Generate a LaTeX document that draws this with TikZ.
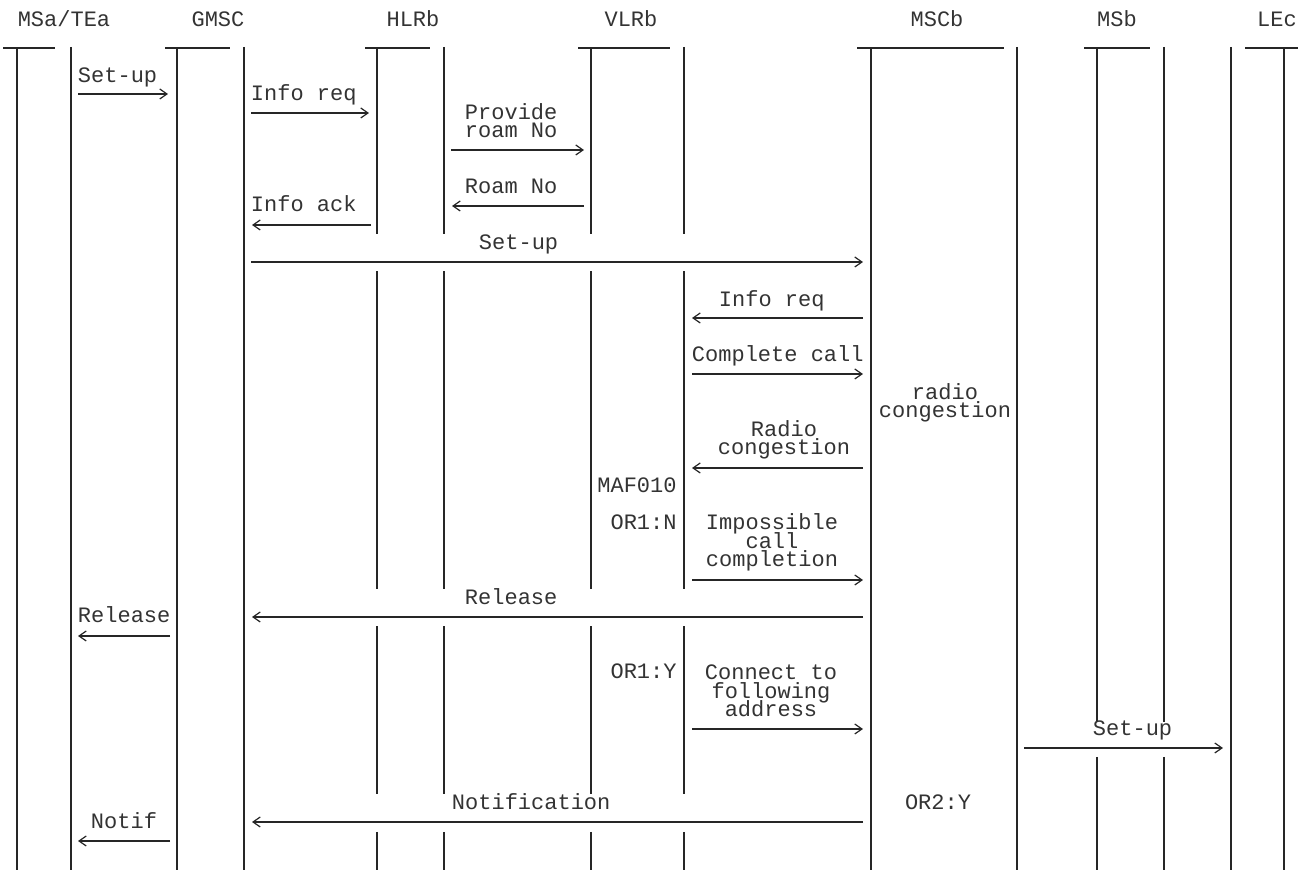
\documentclass[tikz,border=0pt]{standalone}
\usepackage{fontspec}
\setmainfont{Liberation Mono}
\usetikzlibrary{arrows.meta,calc}
\definecolor{ink}{HTML}{333333}
\definecolor{wire}{HTML}{262626}
\newcommand{\chartfont}{\fontsize{11}{9.34}\selectfont\lineskiplimit=-20pt\relax}

\begin{document}
\begin{tikzpicture}[
  x=0.5pt, y=-0.5pt,
  font=\chartfont,
  life/.style={draw=wire, line width=0.8pt},
  bar/.style={draw=wire, line width=0.7pt},
  msg/.style={draw=wire, line width=0.7pt, -{Straight Barb[length=3.6pt, width=5pt, line width=0.6pt]}},
  lbl/.style={text=ink, inner sep=0pt, anchor=base, align=center},
  note/.style={lbl, anchor=base east}]
  \useasboundingbox (0,0) rectangle (1298,870);

  % entities
  \node[lbl] (msa)  at (64,27)   {MSa/TEa};
  \node[lbl] (gmsc) at (218,27)  {GMSC};
  \node[lbl] (hlrb) at (413,27)  {HLRb};
  \node[lbl] (vlrb) at (631,27)  {VLRb};
  \node[lbl] (mscb) at (937,27)  {MSCb};
  \node[lbl] (msb)  at (1117,27) {MSb};
  \node[lbl] (lec)  at (1277,27) {LEc};

  % lifeline tops: t = line under the bar, p = plain line
  \coordinate (msa-t)  at (17,48);   \coordinate (msa-p)  at (71,47);
  \coordinate (gmsc-t) at (177,48);  \coordinate (gmsc-p) at (244,47);
  \coordinate (hlrb-t) at (377,48);  \coordinate (hlrb-p) at (444,47);
  \coordinate (vlrb-t) at (591,48);  \coordinate (vlrb-p) at (684,47);
  \coordinate (mscb-t) at (871,48);  \coordinate (mscb-p) at (1017,47);
  \coordinate (msb-t)  at (1097,48); \coordinate (msb-p)  at (1164,47);
  \coordinate (lec-p)  at (1231,47); \coordinate (lec-t)  at (1284,48);
  \coordinate (foot) at (0,870);
  % gaps where the long messages cross
  \coordinate (g1a) at (0,234);   \coordinate (g1b) at (0,271.5);
  \coordinate (g2a) at (0,589);   \coordinate (g2b) at (0,626.5);
  \coordinate (g3a) at (0,722);   \coordinate (g3b) at (0,757);
  \coordinate (g4a) at (0,794.5); \coordinate (g4b) at (0,832);

  % bars
  \draw[bar] ($(msa-t)+(-14,0)$) -- ($(msa-t)+(38,0)$);
  \draw[bar] ($(gmsc-t)+(-12,0)$) -- ($(gmsc-t)+(53,0)$);
  \draw[bar] ($(hlrb-t)+(-12,0)$) -- ($(hlrb-t)+(53,0)$);
  \draw[bar] ($(vlrb-t)+(-13,0)$) -- ($(vlrb-t)+(79,0)$);
  \draw[bar] ($(mscb-t)+(-14,0)$) -- ($(mscb-t)+(133,0)$);
  \draw[bar] ($(msb-t)+(-13,0)$) -- ($(msb-t)+(53,0)$);
  \draw[bar] ($(lec-t)+(-39,0)$) -- ($(lec-t)+(14,0)$);

  % lifelines
  \draw[life] (msa-t) -- (msa-t |- foot);
  \draw[life] (msa-p) -- (msa-p |- foot);
  \draw[life] (gmsc-t) -- (gmsc-t |- foot);
  \draw[life] (gmsc-p) -- (gmsc-p |- foot);
  \draw[life] (hlrb-t) -- (hlrb-t |- g1a) (hlrb-t |- g1b) -- (hlrb-t |- g2a) (hlrb-t |- g2b) -- (hlrb-t |- g4a) (hlrb-t |- g4b) -- (hlrb-t |- foot);
  \draw[life] (hlrb-p) -- (hlrb-p |- g1a) (hlrb-p |- g1b) -- (hlrb-p |- g2a) (hlrb-p |- g2b) -- (hlrb-p |- g4a) (hlrb-p |- g4b) -- (hlrb-p |- foot);
  \draw[life] (vlrb-t) -- (vlrb-t |- g1a) (vlrb-t |- g1b) -- (vlrb-t |- g2a) (vlrb-t |- g2b) -- (vlrb-t |- g4a) (vlrb-t |- g4b) -- (vlrb-t |- foot);
  \draw[life] (vlrb-p) -- (vlrb-p |- g1a) (vlrb-p |- g1b) -- (vlrb-p |- g2a) (vlrb-p |- g2b) -- (vlrb-p |- g4a) (vlrb-p |- g4b) -- (vlrb-p |- foot);
  \draw[life] (mscb-t) -- (mscb-t |- foot);
  \draw[life] (mscb-p) -- (mscb-p |- foot);
  \draw[life] (msb-t) -- (msb-t |- g3a) (msb-t |- g3b) -- (msb-t |- foot);
  \draw[life] (msb-p) -- (msb-p |- g3a) (msb-p |- g3b) -- (msb-p |- foot);
  \draw[life] (lec-p) -- (lec-p |- foot);
  \draw[life] (lec-t) -- (lec-t |- foot);

  % messages
  \coordinate (m1s) at (78,94);      \coordinate (m1e) at (168,94);
  \coordinate (m2s) at (251,113);    \coordinate (m2e) at (369,113);
  \coordinate (m3s) at (451,150);    \coordinate (m3e) at (584,150);
  \coordinate (m4s) at (584,206);    \coordinate (m4e) at (452,206);
  \coordinate (m5s) at (371,225);    \coordinate (m5e) at (252,225);
  \coordinate (m6s) at (251,262);    \coordinate (m6e) at (863,262);
  \coordinate (m7s) at (863,318);    \coordinate (m7e) at (692,318);
  \coordinate (m8s) at (692,374);    \coordinate (m8e) at (863,374);
  \coordinate (m9s) at (863,468);    \coordinate (m9e) at (692,468);
  \coordinate (m10s) at (692,580);   \coordinate (m10e) at (863,580);
  \coordinate (m11s) at (863,617);   \coordinate (m11e) at (252,617);
  \coordinate (m12s) at (170,636);   \coordinate (m12e) at (78,636);
  \coordinate (m13s) at (692,729);   \coordinate (m13e) at (863,729);
  \coordinate (m14s) at (1024,748);  \coordinate (m14e) at (1223,748);
  \coordinate (m15s) at (863,822);   \coordinate (m15e) at (252,822);
  \coordinate (m16s) at (170,841);   \coordinate (m16e) at (78,841);
  \draw[msg] (m1s) -- (m1e);
  \draw[msg] (m2s) -- (m2e);
  \draw[msg] (m3s) -- (m3e);
  \draw[msg] (m4s) -- (m4e);
  \draw[msg] (m5s) -- (m5e);
  \draw[msg] (m6s) -- (m6e);
  \draw[msg] (m7s) -- (m7e);
  \draw[msg] (m8s) -- (m8e);
  \draw[msg] (m9s) -- (m9e);
  \draw[msg] (m10s) -- (m10e);
  \draw[msg] (m11s) -- (m11e);
  \draw[msg] (m12s) -- (m12e);
  \draw[msg] (m13s) -- (m13e);
  \draw[msg] (m14s) -- (m14e);
  \draw[msg] (m15s) -- (m15e);
  \draw[msg] (m16s) -- (m16e);

  % labels (base = last line)
  \node[lbl] (setup1)   at (117.6,83)  {Set-up};
  \node[lbl] (inforeq1) at (303.8,101) {Info req};
  \node[lbl] (provide)  at (511.2,138) {Provide\\roam No};
  \node[lbl] (roamno)   at (511.2,194) {Roam No};
  \node[lbl] (infoack)  at (303.8,212) {Info ack};
  \node[lbl] (setup2)   at (518.6,250) {Set-up};
  \node[lbl] (inforeq2) at (771.8,307) {Info req};
  \node[lbl] (complete) at (777.8,362) {Complete call};
  \node[lbl] (congest)  at (945,418)   {radio\\congestion};
  \node[lbl] (radiocong) at (784,455)  {Radio\\congestion};
  \node[note] (maf)     at (677,493)   {MAF010};
  \node[note] (or1n)    at (677,530)   {OR1:N};
  \node[lbl] (impossible) at (772,567) {Impossible\\call\\completion};
  \node[lbl] (release1) at (511.2,605) {Release};
  \node[lbl] (release2) at (124.2,623) {Release};
  \node[note] (or1y)    at (677,679)   {OR1:Y};
  \node[lbl] (connect)  at (771,717)   {Connect to\\following\\address};
  \node[lbl] (setup3)   at (1132.6,736) {Set-up};
  \node[lbl] (notification) at (531.2,810) {Notification};
  \node[lbl] (or2y)     at (938,810)   {OR2:Y};
  \node[lbl] (notif)    at (124,829)   {Notif};
\end{tikzpicture}
\end{document}
